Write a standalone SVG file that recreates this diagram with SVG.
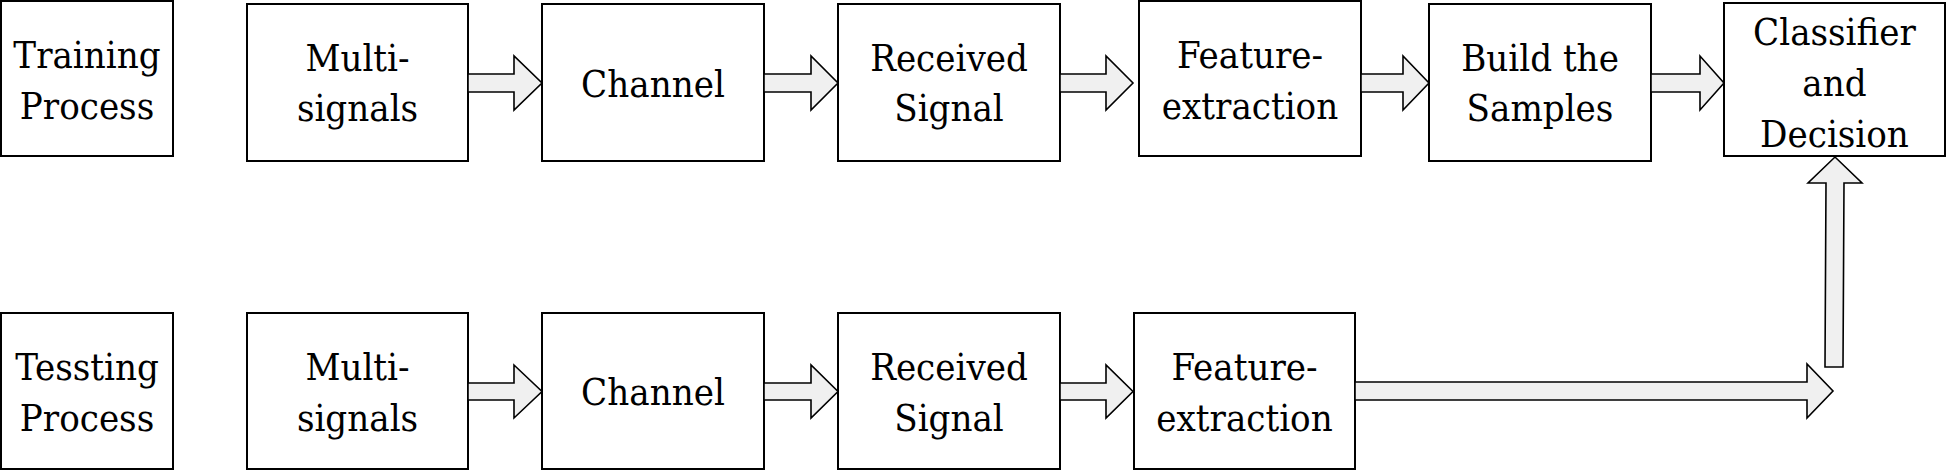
<svg xmlns="http://www.w3.org/2000/svg" width="1947" height="470" viewBox="0 0 1947 470">
<style>
.box{fill:#fff;stroke:#000;stroke-width:2}
.arr{fill:#f0f0f0;stroke:#000;stroke-width:1.6;stroke-linejoin:miter}
.t{font-family:'DejaVu Serif Condensed','DejaVu Serif',serif;font-stretch:condensed;font-size:38px;fill:#000;text-anchor:middle}
</style>
<rect width="1947" height="470" fill="#fff"/>
<g class="t">
<g id="training"><rect class="box" x="1" y="1" width="172" height="155"/><text x="87" y="68">Training</text><text x="87" y="119">Process</text></g>
<g id="multi1"><rect class="box" x="247" y="4" width="221" height="157"/><text x="357.5" y="71">Multi-</text><text x="357.5" y="121">signals</text></g>
<g id="channel1"><rect class="box" x="542" y="4" width="222" height="157"/><text x="653" y="97">Channel</text></g>
<g id="received1"><rect class="box" x="838" y="4" width="222" height="157"/><text x="949" y="71">Received</text><text x="949" y="121">Signal</text></g>
<g id="feature1"><rect class="box" x="1139" y="1" width="222" height="155"/><text x="1250" y="68">Feature-</text><text x="1250" y="119">extraction</text></g>
<g id="build"><rect class="box" x="1429" y="4" width="222" height="157"/><text x="1540" y="71">Build the</text><text x="1540" y="121">Samples</text></g>
<g id="classifier"><rect class="box" x="1724" y="3" width="221" height="153"/><text x="1834.5" y="45">Classifier</text><text x="1834.5" y="96">and</text><text x="1834.5" y="147">Decision</text></g>
<g id="testing"><rect class="box" x="1" y="313" width="172" height="156"/><text x="87" y="380">Tessting</text><text x="87" y="431">Process</text></g>
<g id="multi2"><rect class="box" x="247" y="313" width="221" height="156"/><text x="357.5" y="380">Multi-</text><text x="357.5" y="431">signals</text></g>
<g id="channel2"><rect class="box" x="542" y="313" width="222" height="156"/><text x="653" y="405">Channel</text></g>
<g id="received2"><rect class="box" x="838" y="313" width="222" height="156"/><text x="949" y="380">Received</text><text x="949" y="431">Signal</text></g>
<g id="feature2"><rect class="box" x="1134" y="313" width="221" height="156"/><text x="1244.5" y="380">Feature-</text><text x="1244.5" y="431">extraction</text></g>
</g>
<g id="connectors">
<polygon class="arr" points="468,74 514,74 514,56 542,83 514,110 514,92 468,92"/>
<polygon class="arr" points="764,74 811,74 811,56 838,83 811,110 811,92 764,92"/>
<polygon class="arr" points="1060,74 1106,74 1106,56 1133,83 1106,110 1106,92 1060,92"/>
<polygon class="arr" points="1361,74 1403,74 1403,56 1429,83 1403,110 1403,92 1361,92"/>
<polygon class="arr" points="1651,74 1700,74 1700,56 1724,83 1700,110 1700,92 1651,92"/>
<polygon class="arr" points="468,383 514,383 514,365 542,391.5 514,418 514,400 468,400"/>
<polygon class="arr" points="764,383 811,383 811,365 838,391.5 811,418 811,400 764,400"/>
<polygon class="arr" points="1060,383 1106,383 1106,365 1133,391.5 1106,418 1106,400 1060,400"/>
<polygon class="arr" points="1355,382 1807,382 1807,364 1833,391 1807,418 1807,400 1355,400"/>
<polygon class="arr" points="1825,367 1826,183 1808,183 1835,157 1862,183 1844,183 1843,367"/>
</g>
</svg>
